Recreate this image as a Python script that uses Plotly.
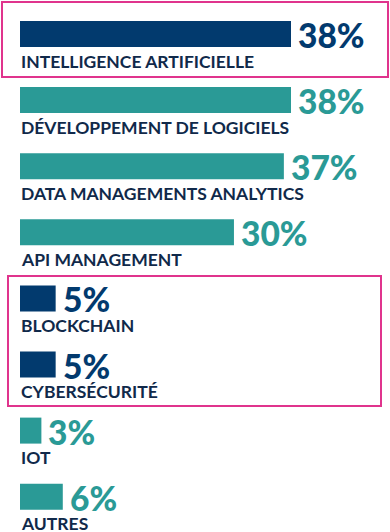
import plotly.graph_objects as go

categories = ["INTELLIGENCE ARTIFICIELLE", "DÉVELOPPEMENT DE LOGICIELS",
              "DATA MANAGEMENTS ANALYTICS", "API MANAGEMENT", "BLOCKCHAIN",
              "CYBERSÉCURITÉ", "IOT", "AUTRES"]
values = [38, 38, 37, 30, 5, 5, 3, 6]
highlighted = [True, False, False, False, True, True, False, False]

NAVY = "#023a6e"
TEAL = "#2a9a96"
LABEL = "#10294a"
PINK = "#e0348d"
W, H = 390, 532

colors = [NAVY if h else TEAL for h in highlighted]
idx = list(range(len(categories)))

k = 271 / 38          # px per percent
x0px = 20
step = 66.1           # px per row
c0 = 34               # px of first row centre

fig = go.Figure(go.Bar(
    x=values, y=idx, orientation="h",
    marker=dict(color=colors, line=dict(width=0)),
    width=26 / step, hoverinfo="skip",
))

ann = []
for i, (c, v, col) in enumerate(zip(categories, values, colors)):
    ann.append(dict(x=0, y=i, xref="x", yref="y", text=c, showarrow=False,
                    xanchor="left", yanchor="middle", yshift=-27, xshift=-1,
                    font=dict(family="Lato", size=17.5, color=LABEL, weight=700)))
    ann.append(dict(x=v, y=i, xref="x", yref="y", text=f"{v}%", showarrow=False,
                    xanchor="left", yanchor="middle", xshift=5, yshift=-1,
                    font=dict(family="Lato", size=33.5, color=col, weight=900)))

shapes = [
    dict(type="rect", xref="paper", yref="paper",
         x0=2 / W, x1=388 / W, y0=1 - 2 / H, y1=1 - 77 / H,
         line=dict(color=PINK, width=2)),
    dict(type="rect", xref="paper", yref="paper",
         x0=8 / W, x1=381 / W, y0=1 - 276 / H, y1=1 - 406 / H,
         line=dict(color=PINK, width=2)),
]

fig.update_layout(
    width=W, height=H, margin=dict(l=0, r=0, t=0, b=0),
    paper_bgcolor="white", plot_bgcolor="white", showlegend=False,
    xaxis=dict(range=[-x0px / k, (W - x0px) / k], visible=False, fixedrange=True),
    yaxis=dict(range=[(H - c0) / step, -c0 / step], visible=False, fixedrange=True),
    annotations=ann, shapes=shapes,
)

fig.write_html("out.html", config={"displayModeBar": False},
               post_script="document.body.style.margin='0';document.body.style.overflow='hidden';")
